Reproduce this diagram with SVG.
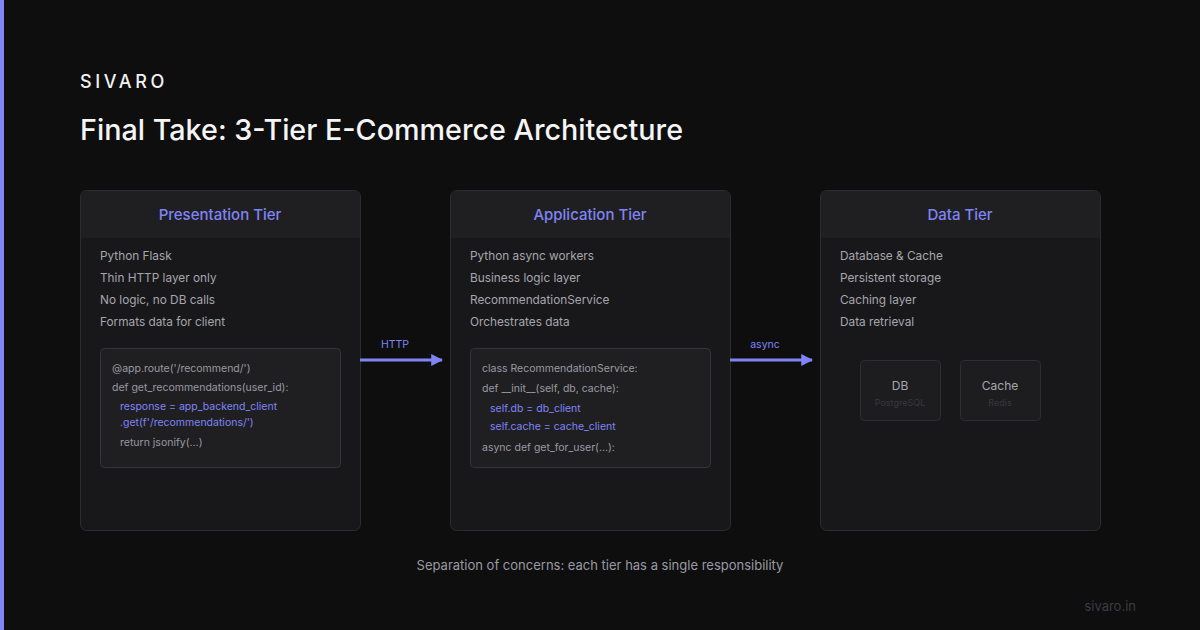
<svg xmlns="http://www.w3.org/2000/svg" width="1200" height="630" viewBox="0 0 1200 630">
<defs>
<style>
text{font-family:Inter,"Liberation Sans",sans-serif;}
.tier{fill:#18181b;stroke:#2c2c30;stroke-width:1}
.head{fill:#1f1f22}
.ttl{fill:#7f84f5;font-size:15px;font-weight:500;text-anchor:middle}
.item{fill:#a6a6ad;font-size:11.8px}
.code{fill:#1f1f22;stroke:#34343a;stroke-width:1}
.c{fill:#9a9aa2;font-size:10.5px}
.ch{fill:#7f84f5;font-size:10.5px}
.sub{fill:#1d1d20;stroke:#2e2e33;stroke-width:1}
.lbl{fill:#7f84f5;font-size:10.5px;text-anchor:middle}
.conn{stroke:#7f84f5;stroke-width:3;fill:none}
</style>
<marker id="ah" viewBox="0 0 10 10" refX="9" refY="5" markerWidth="4" markerHeight="4" orient="auto" markerUnits="strokeWidth"><path d="M0,0 L10,5 L0,10 z" fill="#7f84f5"/></marker>
<clipPath id="cp1"><rect x="80" y="190" width="280" height="340" rx="6"/></clipPath>
<clipPath id="cp2"><rect x="450" y="190" width="280" height="340" rx="6"/></clipPath>
<clipPath id="cp3"><rect x="820" y="190" width="280" height="340" rx="6"/></clipPath>
</defs>
<rect width="1200" height="630" fill="#0e0e0f"/>
<rect x="0" y="0" width="4" height="630" fill="#7f84f5"/>
<text x="80" y="88" fill="#f2f2f2" font-size="18" font-weight="500" letter-spacing="3.6">SIVARO</text>
<text x="80" y="140" fill="#f5f5f5" font-size="28.8" font-weight="500" textLength="603" lengthAdjust="spacingAndGlyphs">Final Take: 3-Tier E-Commerce Architecture</text>

<g id="presentation">
<rect class="tier" x="80.5" y="190.5" width="280" height="340" rx="6"/>
<rect class="head" x="81" y="191" width="279" height="47" clip-path="url(#cp1)"/>
<text class="ttl" x="220" y="220">Presentation Tier</text>
<text class="item" x="100" y="260">Python Flask</text>
<text class="item" x="100" y="282">Thin HTTP layer only</text>
<text class="item" x="100" y="304">No logic, no DB calls</text>
<text class="item" x="100" y="326">Formats data for client</text>
<rect class="code" x="100.5" y="348.5" width="240" height="119" rx="4"/>
<text class="c" x="112" y="372">@app.route('/recommend/')</text>
<text class="c" x="112" y="391">def get_recommendations(user_id):</text>
<text class="ch" x="120" y="410">response = app_backend_client</text>
<text class="ch" x="120" y="426">.get(f'/recommendations/')</text>
<text class="c" x="120" y="446">return jsonify(...)</text>
</g>

<g id="application">
<rect class="tier" x="450.5" y="190.5" width="280" height="340" rx="6"/>
<rect class="head" x="451" y="191" width="279" height="47" clip-path="url(#cp2)"/>
<text class="ttl" x="590" y="220">Application Tier</text>
<text class="item" x="470" y="260">Python async workers</text>
<text class="item" x="470" y="282">Business logic layer</text>
<text class="item" x="470" y="304">RecommendationService</text>
<text class="item" x="470" y="326">Orchestrates data</text>
<rect class="code" x="470.5" y="348.5" width="240" height="119" rx="4"/>
<text class="c" x="482" y="372">class RecommendationService:</text>
<text class="c" x="482" y="392">def __init__(self, db, cache):</text>
<text class="ch" x="490" y="412">self.db = db_client</text>
<text class="ch" x="490" y="430">self.cache = cache_client</text>
<text class="c" x="482" y="451">async def get_for_user(...):</text>
</g>

<g id="data">
<rect class="tier" x="820.5" y="190.5" width="280" height="340" rx="6"/>
<rect class="head" x="821" y="191" width="279" height="47" clip-path="url(#cp3)"/>
<text class="ttl" x="960" y="220">Data Tier</text>
<text class="item" x="840" y="260">Database &amp; Cache</text>
<text class="item" x="840" y="282">Persistent storage</text>
<text class="item" x="840" y="304">Caching layer</text>
<text class="item" x="840" y="326">Data retrieval</text>
</g>
<g id="db">
<rect class="sub" x="860.5" y="360.5" width="80" height="60" rx="4"/>
<text x="900" y="390" fill="#a6a6ad" font-size="12" text-anchor="middle">DB</text>
<text x="900" y="406" fill="#38383d" font-size="9" text-anchor="middle">PostgreSQL</text>
</g>
<g id="cache">
<rect class="sub" x="960.5" y="360.5" width="80" height="60" rx="4"/>
<text x="1000" y="390" fill="#a6a6ad" font-size="12" text-anchor="middle">Cache</text>
<text x="1000" y="406" fill="#38383d" font-size="9" text-anchor="middle">Redis</text>
</g>

<g id="connectors">
<line class="conn" x1="360" y1="360" x2="442" y2="360" marker-end="url(#ah)"/>
<text class="lbl" x="395" y="348">HTTP</text>
<line class="conn" x1="730" y1="360" x2="812" y2="360" marker-end="url(#ah)"/>
<text class="lbl" x="765" y="348">async</text>
</g>

<text x="600" y="570" fill="#9a9aa2" font-size="13" text-anchor="middle">Separation of concerns: each tier has a single responsibility</text>
<text x="1136" y="611" fill="#3c3c42" font-size="13" text-anchor="end">sivaro.in</text>
</svg>
